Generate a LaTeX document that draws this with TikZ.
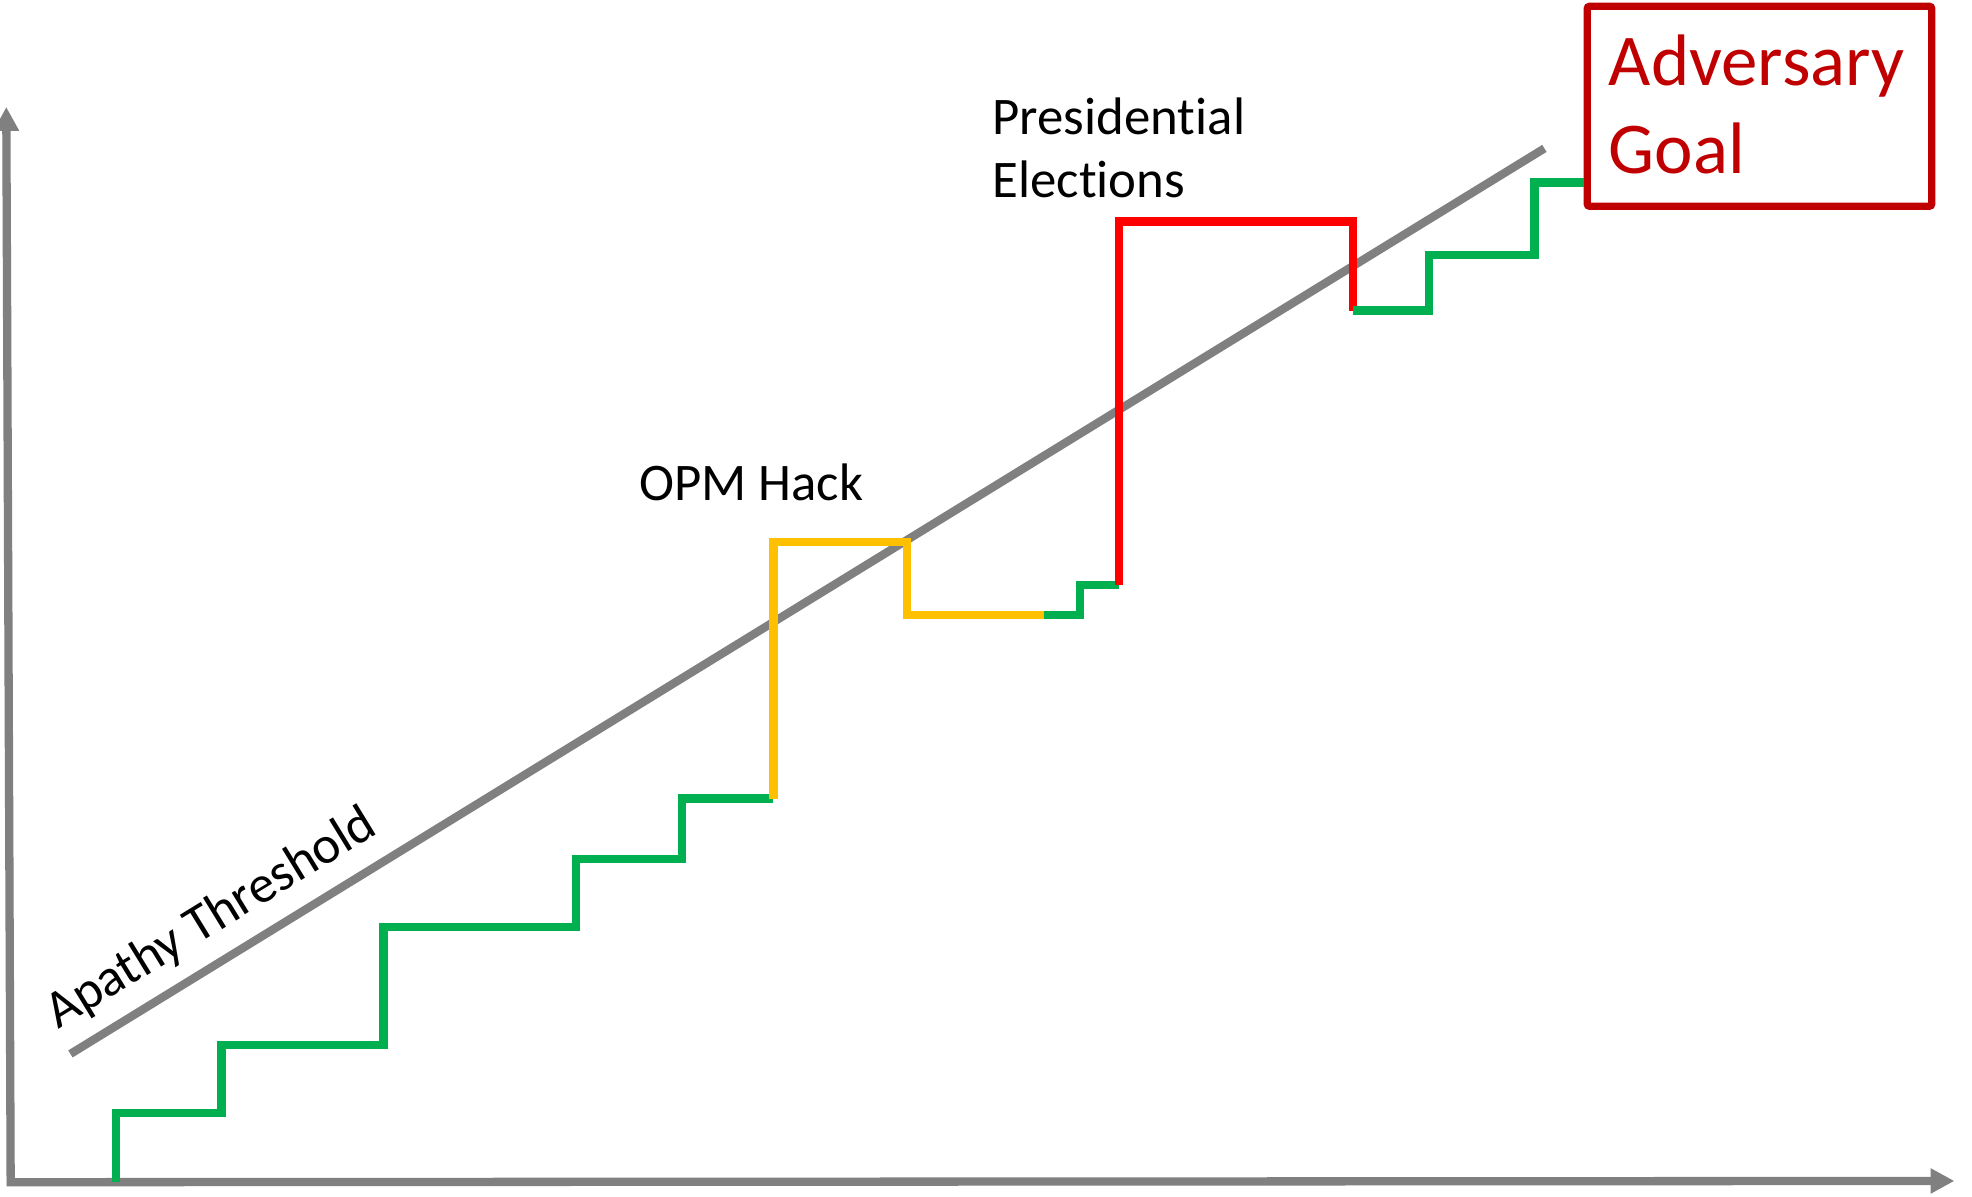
\documentclass[tikz,border=0pt]{standalone}
\usepackage{fontspec}
\setmainfont{Carlito}[Ligatures=NoCommon]
\usetikzlibrary{arrows.meta}
\definecolor{axisgray}{HTML}{808080}
\definecolor{stepgreen}{HTML}{00B050}
\definecolor{stepamber}{HTML}{FFC000}
\definecolor{stepred}{HTML}{FF0000}
\definecolor{goalred}{HTML}{C00000}
\tikzset{
  axisline/.style={draw=axisgray, line width=6.6pt, -{Triangle[length=19pt,width=19pt]}},
  threshold/.style={draw=axisgray, line width=6.6pt},
  stair/.style={line width=6.6pt, line join=miter},
  calm/.style={stair, draw=stepgreen},
  tense/.style={stair, draw=stepamber},
  crisis/.style={stair, draw=stepred},
  caption/.style={font=\fontsize{42}{50}\selectfont, inner sep=0pt, anchor=base west},
  goalbox/.style={draw=goalred, line width=5.8pt, rounded corners=2pt, minimum width=274pt, minimum height=159pt, inner sep=0pt},
}
\begin{document}
\begin{tikzpicture}[x=1pt, y=-1pt]
\useasboundingbox (0,0) rectangle (1568,951);

% axes
\coordinate (origin) at (8.5,940);
\draw[axisline] (8.5,943) -- (5,85);
\draw[axisline] (5.5,940) -- (1554,939);

% apathy threshold
\coordinate (thrA) at (56,838);
\coordinate (thrB) at (1228,118);
\draw[threshold] (thrA) -- (thrB);
\node[caption, rotate=31.5] (apathy) at (46,819) {Apathy Threshold};

% goal box
\node[goalbox] (goal) at (1399,84.5) {};
\node[caption, font=\fontsize{58}{70}\selectfont, text=goalred] (goalA) at (1279,68) {Adversary};
\node[caption, font=\fontsize{58}{70}\selectfont, text=goalred] (goalB) at (1279,138) {Goal};

% event labels
\node[caption] (opm) at (508,398) {OPM Hack};
\node[caption] (presA) at (789,107) {Presidential};
\node[caption] (presB) at (789,157) {Elections};

% staircase
\coordinate (s0) at (92,940);
\coordinate (s1) at (615,635);
\coordinate (s2) at (830,489);
\coordinate (s3) at (890,465);
\coordinate (s4) at (1076,247);
\coordinate (s5) at (goal.west |- 0,145);

\draw[calm] (s0) |- (176,885) |- (305,831) |- (458,737) |- (542,683) |- (s1);
\draw[tense] (s1) -- (615,431) -| (721,489) -- (s2);
\draw[calm] (s2) -| (859,465) -- (s3);
\draw[crisis] (s3) -- (890,176) -| (s4);
\draw[calm] (s4) -| (1136,203) -| (1220,145) -- (s5);
\end{tikzpicture}
\end{document}
